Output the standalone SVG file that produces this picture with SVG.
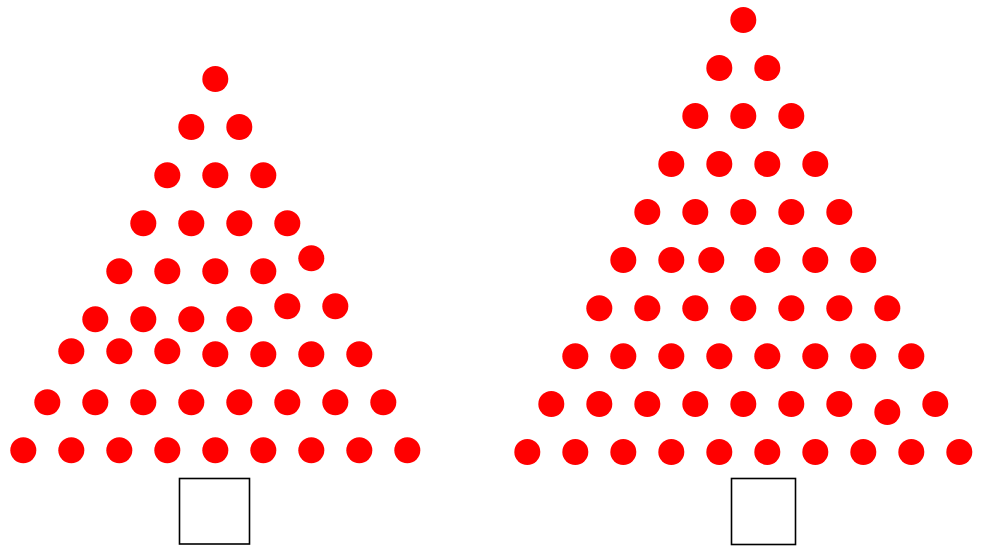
<svg xmlns="http://www.w3.org/2000/svg" width="981" height="547" viewBox="0 0 981 547">
<style>
.d{fill:#ff0000}
.t{fill:#ffffff;stroke:#000000;stroke-width:1.6}
</style>
<rect width="981" height="547" fill="#ffffff"/>
<g id="tree-left">
<g class="d">
<circle cx="215.3" cy="79" r="13"/>
<circle cx="191.3" cy="127" r="13"/><circle cx="239.3" cy="127" r="13"/>
<circle cx="167.3" cy="175.3" r="13"/><circle cx="215.3" cy="175.3" r="13"/><circle cx="263.3" cy="175.3" r="13"/>
<circle cx="143.3" cy="223.3" r="13"/><circle cx="191.3" cy="223.3" r="13"/><circle cx="239.3" cy="223.3" r="13"/><circle cx="287.3" cy="223.3" r="13"/>
<circle cx="119.3" cy="271.3" r="13"/><circle cx="167.3" cy="271.3" r="13"/><circle cx="215.3" cy="271.3" r="13"/><circle cx="263.3" cy="271.3" r="13"/><circle cx="311.3" cy="258.3" r="13"/>
<circle cx="95.3" cy="319.3" r="13"/><circle cx="143.3" cy="319.3" r="13"/><circle cx="191.3" cy="319.3" r="13"/><circle cx="239.3" cy="319.3" r="13"/><circle cx="287.3" cy="306.3" r="13"/><circle cx="335.3" cy="306.3" r="13"/>
<circle cx="71.3" cy="351.3" r="13"/><circle cx="119.3" cy="351.3" r="13"/><circle cx="167.3" cy="351.3" r="13"/><circle cx="215.3" cy="354.3" r="13"/><circle cx="263.3" cy="354.3" r="13"/><circle cx="311.3" cy="354.3" r="13"/><circle cx="359.3" cy="354.3" r="13"/>
<circle cx="47.3" cy="402.3" r="13"/><circle cx="95.3" cy="402.3" r="13"/><circle cx="143.3" cy="402.3" r="13"/><circle cx="191.3" cy="402.3" r="13"/><circle cx="239.3" cy="402.3" r="13"/><circle cx="287.3" cy="402.3" r="13"/><circle cx="335.3" cy="402.3" r="13"/><circle cx="383.3" cy="402.3" r="13"/>
<circle cx="23.3" cy="450.3" r="13"/><circle cx="71.3" cy="450.3" r="13"/><circle cx="119.3" cy="450.3" r="13"/><circle cx="167.3" cy="450.3" r="13"/><circle cx="215.3" cy="450.3" r="13"/><circle cx="263.3" cy="450.3" r="13"/><circle cx="311.3" cy="450.3" r="13"/><circle cx="359.3" cy="450.3" r="13"/><circle cx="407.3" cy="450.3" r="13"/>
</g>
<rect class="t" x="179.5" y="478.5" width="70" height="65.5"/>
</g>
<g id="tree-right">
<g class="d">
<circle cx="743.3" cy="20" r="13"/>
<circle cx="719.3" cy="68" r="13"/><circle cx="767.3" cy="68" r="13"/>
<circle cx="695.3" cy="116" r="13"/><circle cx="743.3" cy="116" r="13"/><circle cx="791.3" cy="116" r="13"/>
<circle cx="671.3" cy="164" r="13"/><circle cx="719.3" cy="164" r="13"/><circle cx="767.3" cy="164" r="13"/><circle cx="815.3" cy="164" r="13"/>
<circle cx="647.3" cy="212" r="13"/><circle cx="695.3" cy="212" r="13"/><circle cx="743.3" cy="212" r="13"/><circle cx="791.3" cy="212" r="13"/><circle cx="839.3" cy="212" r="13"/>
<circle cx="623.3" cy="260" r="13"/><circle cx="671.3" cy="260" r="13"/><circle cx="711.3" cy="260" r="13"/><circle cx="767.3" cy="260" r="13"/><circle cx="815.3" cy="260" r="13"/><circle cx="863.3" cy="260" r="13"/>
<circle cx="599.3" cy="308.3" r="13"/><circle cx="647.3" cy="308.3" r="13"/><circle cx="695.3" cy="308.3" r="13"/><circle cx="743.3" cy="308.3" r="13"/><circle cx="791.3" cy="308.3" r="13"/><circle cx="839.3" cy="308.3" r="13"/><circle cx="887.3" cy="308.3" r="13"/>
<circle cx="575.3" cy="356.3" r="13"/><circle cx="623.3" cy="356.3" r="13"/><circle cx="671.3" cy="356.3" r="13"/><circle cx="719.3" cy="356.3" r="13"/><circle cx="767.3" cy="356.3" r="13"/><circle cx="815.3" cy="356.3" r="13"/><circle cx="863.3" cy="356.3" r="13"/><circle cx="911.3" cy="356.3" r="13"/>
<circle cx="551.3" cy="404" r="13"/><circle cx="599.3" cy="404" r="13"/><circle cx="647.3" cy="404" r="13"/><circle cx="695.3" cy="404" r="13"/><circle cx="743.3" cy="404" r="13"/><circle cx="791.3" cy="404" r="13"/><circle cx="839.3" cy="404" r="13"/><circle cx="887.3" cy="412" r="13"/><circle cx="935.3" cy="404" r="13"/>
<circle cx="527.3" cy="452" r="13"/><circle cx="575.3" cy="452" r="13"/><circle cx="623.3" cy="452" r="13"/><circle cx="671.3" cy="452" r="13"/><circle cx="719.3" cy="452" r="13"/><circle cx="767.3" cy="452" r="13"/><circle cx="815.3" cy="452" r="13"/><circle cx="863.3" cy="452" r="13"/><circle cx="911.3" cy="452" r="13"/><circle cx="959.3" cy="452" r="13"/>
</g>
<rect class="t" x="731.5" y="478.5" width="64" height="66"/>
</g>
<g id="connectors"/>
</svg>
